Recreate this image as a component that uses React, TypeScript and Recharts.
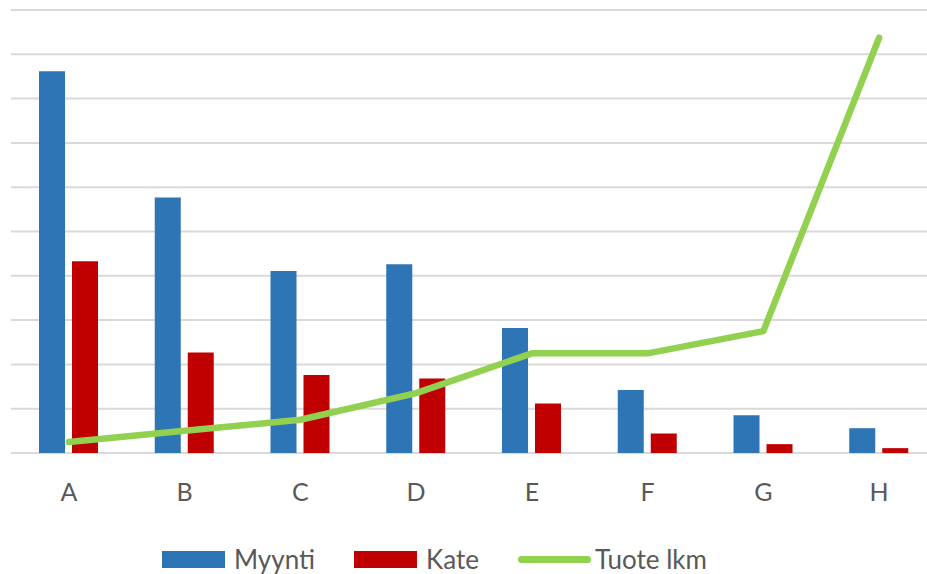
import { ComposedChart, Bar, Line, XAxis, YAxis, CartesianGrid, Legend } from 'recharts';

// Product groups
const categories = ['A', 'B', 'C', 'D', 'E', 'F', 'G', 'H'];

// Sales and margin per group (primary axis)
const myynti = [86.2, 57.7, 41.1, 42.6, 28.2, 14.2, 8.5, 5.6];
const kate = [43.3, 22.7, 17.6, 16.8, 11.2, 4.4, 2.0, 1.1];

// Number of products per group (secondary axis)
const tuoteLkm = [1, 2, 3, 5.4, 9, 9, 11, 37.5];

const primaryTicks = [0, 10, 20, 30, 40, 50, 60, 70, 80, 90, 100];

const BLUE = '#2E75B6';
const RED = '#C00000';
const GREEN = '#92D050';
const GRID = '#D9D9D9';
const TEXT = '#595959';
const FONT = 'Lato, "Open Sans", sans-serif';

const data = categories.map((name, i) => ({
  name,
  myynti: myynti[i],
  kate: kate[i],
  tuoteLkm: tuoteLkm[i],
}));

const legendItems = [
  { label: 'Myynti', color: BLUE, kind: 'rect' },
  { label: 'Kate', color: RED, kind: 'rect' },
  { label: 'Tuote lkm', color: GREEN, kind: 'line' },
];

function ChartLegend() {
  return (
    <div style={{ display: 'flex', alignItems: 'center', height: 26, fontFamily: FONT, fontSize: 26, color: TEXT, lineHeight: 1 }}>
      {legendItems.map((item, i) => (
        <div key={item.label} style={{ display: 'flex', alignItems: 'center', marginLeft: i === 0 ? 0 : 39 }}>
          {item.kind === 'rect' ? (
            <span style={{ display: 'inline-block', width: 63, height: 17, background: item.color }} />
          ) : (
            <span style={{ display: 'inline-block', width: 73, height: 7, borderRadius: 4, background: item.color }} />
          )}
          <span style={{ marginLeft: item.kind === 'rect' ? 9 : 4, whiteSpace: 'nowrap' }}>{item.label}</span>
        </div>
      ))}
    </div>
  );
}

export default function App() {
  return (
    <div style={{ position: 'absolute', left: 0, top: 0, width: 927, height: 574, overflow: 'hidden', background: '#fff' }}>
      <ComposedChart
        width={960}
        height={574}
        data={data}
        margin={{ top: 10, right: 23, left: 11, bottom: 21 }}
        barSize={26}
        barGap={7}
      >
        {/* gridlines sit behind the bars, one per primary tick */}
        <CartesianGrid
          yAxisId="left"
          vertical={false}
          stroke={GRID}
          strokeWidth={2}
          horizontalValues={primaryTicks}
        />
        <XAxis
          dataKey="name"
          height={60}
          axisLine={false}
          tickLine={false}
          tickSize={0}
          tickMargin={30}
          tick={{ fill: TEXT, fontSize: 25, fontFamily: FONT }}
        />
        <YAxis
          yAxisId="left"
          width={0}
          domain={[0, 100]}
          ticks={primaryTicks}
          tick={{ fill: 'none', fontSize: 1 }}
          axisLine={false}
          tickLine={false}
        />
        <YAxis yAxisId="right" orientation="right" hide domain={[0, 40]} />
        <Legend
          verticalAlign="bottom"
          height={40}
          content={() => <ChartLegend />}
          wrapperStyle={{ top: 546, left: 162, width: 'auto', bottom: 'auto' }}
        />
        <Bar yAxisId="left" dataKey="myynti" fill={BLUE} isAnimationActive={false} />
        <Bar yAxisId="left" dataKey="kate" fill={RED} isAnimationActive={false} />
        <Line
          yAxisId="right"
          type="linear"
          dataKey="tuoteLkm"
          stroke={GREEN}
          strokeWidth={6.5}
          strokeLinecap="round"
          strokeLinejoin="round"
          dot={false}
          activeDot={false}
          isAnimationActive={false}
        />
      </ComposedChart>
    </div>
  );
}
